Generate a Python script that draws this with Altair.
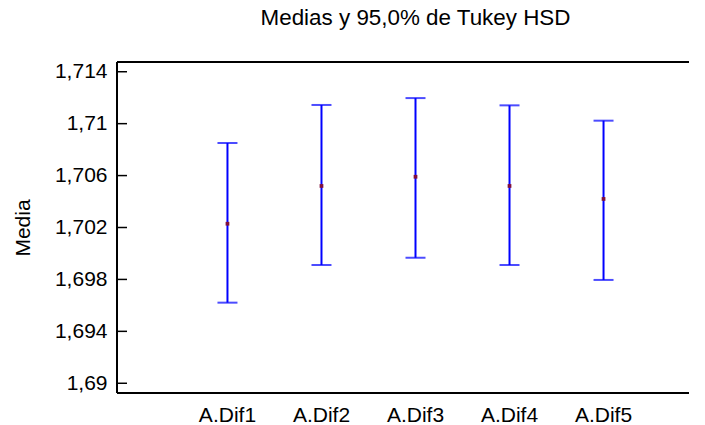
import altair as alt
import pandas as pd

groups = ["A.Dif1", "A.Dif2", "A.Dif3", "A.Dif4", "A.Dif5"]
means = [1.70229, 1.70520, 1.70591, 1.70520, 1.70420]
lowers = [1.69621, 1.69911, 1.69967, 1.69911, 1.69796]
uppers = [1.70851, 1.71144, 1.71197, 1.71141, 1.71023]
y_ticks = [1.690, 1.694, 1.698, 1.702, 1.706, 1.710, 1.714]

df = pd.DataFrame({"grupo": groups, "media": means, "lo": lowers, "hi": uppers})
ticks_df = pd.DataFrame({"v": y_ticks})
one_df = pd.DataFrame({"v": [0]})

W, H = 597, 331
FONT = "Liberation Sans"

xenc = alt.X(
    "grupo:N",
    sort=groups,
    scale=alt.Scale(type="band", paddingInner=0, paddingOuter=0.675),
    axis=alt.Axis(title=None, ticks=False, domain=False, labelAngle=0,
                  labelFontSize=21, labelPadding=11, labelFont=FONT,
                  labelColor="black"),
)
yscale = alt.Scale(domain=[1.68925, 1.71475], nice=False, zero=False)

bars = alt.Chart(df).mark_rule(color="#0000ff", strokeWidth=2).encode(
    x=xenc,
    y=alt.Y("lo:Q", scale=yscale, axis=alt.Axis(
        title="Media", values=y_ticks, ticks=False, domain=False, grid=False,
        labelExpr="replace(format(datum.value, '.3~f'), '.', ',')",
        labelFontSize=21, labelFont=FONT, labelColor="black", labelPadding=10,
        titleFont=FONT, titleFontSize=21, titleFontWeight="normal",
        titleColor="black", titleAngle=-90, titleX=-94, titleY=H / 2,
        titleAlign="center", titleBaseline="middle")),
    y2="hi:Q",
)
caps_lo = alt.Chart(df).mark_tick(color="#0000ff", size=20, thickness=2).encode(
    x=xenc, y=alt.Y("lo:Q", scale=yscale))
caps_hi = alt.Chart(df).mark_tick(color="#0000ff", size=20, thickness=2).encode(
    x=xenc, y=alt.Y("hi:Q", scale=yscale))
pts = alt.Chart(df).mark_square(color="#80103c", size=14, opacity=1).encode(
    x=xenc, y=alt.Y("media:Q", scale=yscale))

left_ticks = alt.Chart(ticks_df).mark_rule(color="black", strokeWidth=1.5).encode(
    x=alt.value(0), x2=alt.value(10), y=alt.Y("v:Q", scale=yscale))

frame_top = alt.Chart(one_df).mark_rule(color="black", strokeWidth=2).encode(
    x=alt.value(0), x2=alt.value(W), y=alt.value(0))
frame_bottom = alt.Chart(one_df).mark_rule(color="black", strokeWidth=2).encode(
    x=alt.value(0), x2=alt.value(W), y=alt.value(H))
frame_left = alt.Chart(one_df).mark_rule(color="black", strokeWidth=2).encode(
    x=alt.value(0), y=alt.value(0), y2=alt.value(H))

chart = alt.layer(frame_top, frame_bottom, frame_left, left_ticks,
                  bars, caps_lo, caps_hi, pts).properties(
    width=W, height=H,
    title=alt.TitleParams("Medias y 95,0% de Tukey HSD", font=FONT, fontSize=22.4,
                          fontWeight="normal", color="black", anchor="middle",
                          baseline="alphabetic", offset=13),
    autosize=alt.AutoSizeParams(type="none"),
    padding={"left": 109, "top": 54, "right": -25, "bottom": 32},
).configure(background="white").configure_view(strokeWidth=0)

chart.save("out.html", embed_options={"renderer": "svg", "actions": False})
